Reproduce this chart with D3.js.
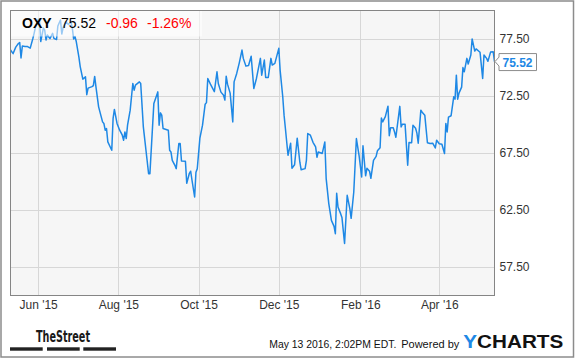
<!DOCTYPE html>
<html>
<head>
<meta charset="utf-8">
<script src="https://cdn.jsdelivr.net/npm/d3@7"></script>
<style>
  html, body { margin: 0; padding: 0; background: #fff; }
  svg { display: block; font-family: Arial, "Liberation Sans", sans-serif; }
</style>
</head>
<body>
<svg id="chart" width="575" height="358"></svg>
<script>
// ---- data ----
const ticker = "OXY";
const lastPrice = "75.52";
const change = "-0.96";
const changePct = "-1.26%";
const dates = [
  "2015-05-11","2015-05-13","2015-05-15","2015-05-17","2015-05-18","2015-05-19","2015-05-20","2015-05-22","2015-05-24","2015-05-26",
  "2015-05-28","2015-05-29","2015-05-30","2015-06-01","2015-06-02","2015-06-03","2015-06-05","2015-06-06","2015-06-07","2015-06-08",
  "2015-06-10","2015-06-12","2015-06-13","2015-06-15","2015-06-16","2015-06-18","2015-06-19","2015-06-20","2015-06-22","2015-06-24",
  "2015-06-26","2015-06-27","2015-06-28","2015-06-29","2015-06-30","2015-07-02","2015-07-03","2015-07-05","2015-07-07","2015-07-08",
  "2015-07-09","2015-07-12","2015-07-13","2015-07-14","2015-07-15","2015-07-17","2015-07-20","2015-07-21","2015-07-22","2015-07-23",
  "2015-07-24","2015-07-26","2015-07-27","2015-07-28","2015-07-29","2015-07-31","2015-08-02","2015-08-04","2015-08-05","2015-08-06",
  "2015-08-07","2015-08-08","2015-08-10","2015-08-12","2015-08-13","2015-08-14","2015-08-17","2015-08-18","2015-08-20","2015-08-22",
  "2015-08-24","2015-08-25","2015-08-28","2015-08-31","2015-09-01","2015-09-02","2015-09-03","2015-09-04","2015-09-08","2015-09-09",
  "2015-09-10","2015-09-11","2015-09-13","2015-09-14","2015-09-16","2015-09-17","2015-09-18","2015-09-21","2015-09-22","2015-09-24",
  "2015-09-25","2015-09-26","2015-09-28","2015-09-29","2015-09-30","2015-10-02","2015-10-04","2015-10-06","2015-10-07","2015-10-08",
  "2015-10-10","2015-10-13","2015-10-15","2015-10-16","2015-10-18","2015-10-20","2015-10-21","2015-10-22","2015-10-23","2015-10-25",
  "2015-10-27","2015-10-28","2015-10-30","2015-11-01","2015-11-03","2015-11-04","2015-11-06","2015-11-08","2015-11-10","2015-11-12",
  "2015-11-14","2015-11-17","2015-11-18","2015-11-20","2015-11-21","2015-11-23","2015-11-25","2015-11-26","2015-11-28","2015-12-01",
  "2015-12-02","2015-12-04","2015-12-05","2015-12-06","2015-12-08","2015-12-10","2015-12-11","2015-12-13","2015-12-15","2015-12-17",
  "2015-12-18","2015-12-21","2015-12-22","2015-12-23","2015-12-25","2015-12-27","2015-12-29","2015-12-30","2015-12-31","2016-01-03",
  "2016-01-05","2016-01-06","2016-01-08","2016-01-10","2016-01-12","2016-01-13","2016-01-14","2016-01-15","2016-01-17","2016-01-18",
  "2016-01-20","2016-01-22","2016-01-24","2016-01-25","2016-01-27","2016-01-29","2016-01-31","2016-02-02","2016-02-03","2016-02-05",
  "2016-02-06","2016-02-08","2016-02-09","2016-02-11","2016-02-13","2016-02-14","2016-02-16","2016-02-17","2016-02-18","2016-02-20",
  "2016-02-22","2016-02-23","2016-02-24","2016-02-26","2016-02-27","2016-02-28","2016-03-02","2016-03-03","2016-03-04","2016-03-06",
  "2016-03-08","2016-03-09","2016-03-11","2016-03-12","2016-03-14","2016-03-15","2016-03-16","2016-03-18","2016-03-19","2016-03-21",
  "2016-03-23","2016-03-25","2016-03-27","2016-03-29","2016-03-30","2016-04-01","2016-04-03","2016-04-05","2016-04-06","2016-04-07",
  "2016-04-08","2016-04-10","2016-04-12","2016-04-13","2016-04-14","2016-04-15","2016-04-16","2016-04-18","2016-04-19","2016-04-20",
  "2016-04-22","2016-04-23","2016-04-25","2016-04-26","2016-04-28","2016-04-29","2016-05-02","2016-05-04","2016-05-05","2016-05-07",
  "2016-05-08","2016-05-10","2016-05-12","2016-05-13"
];
const prices = [
  76.53,76.22,76.79,77.10,77.19,75.83,76.88,76.85,76.84,76.70,
  77.54,78.02,78.55,79.21,79.25,77.28,78.46,78.29,77.41,77.85,
  77.54,78.00,77.56,77.45,78.64,79.17,77.94,78.51,79.02,78.77,
  78.99,78.46,77.50,77.72,77.28,75.91,75.08,73.98,74.18,72.62,
  73.19,73.32,73.41,74.22,73.28,71.55,70.23,70.09,69.50,69.65,
  68.47,67.98,67.74,70.53,71.32,70.09,69.50,69.06,68.62,69.35,
  68.77,69.94,71.26,73.60,73.01,73.45,73.74,73.60,69.79,67.74,
  65.69,65.69,71.85,72.86,69.94,71.02,70.82,69.65,69.50,67.74,
  67.59,66.86,66.42,66.13,68.33,68.33,66.80,66.77,64.84,65.72,
  65.90,65.11,63.64,65.81,66.12,68.80,69.94,71.78,71.92,74.04,
  73.54,72.88,74.62,73.60,72.84,72.57,72.14,74.24,73.54,72.75,
  70.23,73.74,74.48,75.43,76.53,75.80,75.12,75.17,75.98,73.16,
  74.04,75.80,74.33,75.65,74.13,74.13,75.80,75.21,75.36,76.68,
  74.77,72.43,70.82,69.67,67.30,68.36,66.16,66.47,68.80,66.69,
  66.03,66.13,66.86,69.21,69.06,68.44,68.03,67.13,67.59,67.45,
  68.47,65.28,63.06,61.59,61.06,60.42,63.96,62.76,62.18,61.85,
  59.57,63.79,62.62,61.77,64.08,68.77,67.30,65.40,68.14,65.50,
  66.16,65.90,65.28,66.86,67.21,67.70,67.96,70.57,70.23,70.69,
  71.61,69.02,69.72,69.72,69.35,68.88,71.59,69.79,70.03,70.03,
  66.42,68.42,68.40,69.94,69.67,69.24,68.36,71.26,71.08,70.82,
  68.40,68.33,68.36,67.94,68.62,68.31,68.27,67.45,70.09,69.35,
  70.64,70.77,72.43,72.22,74.33,72.22,72.75,73.28,74.99,74.62,
  75.80,75.30,76.09,77.51,76.44,76.63,76.34,74.04,76.09,75.80,
  75.54,76.35,76.38,75.52
];
const yTicks = [57.5, 62.5, 67.5, 72.5, 77.5];
const xTickDates = ["2015-06-01","2015-08-01","2015-10-01","2015-12-01","2016-02-01","2016-04-01"];
const xTickLabels = ["Jun '15","Aug '15","Oct '15","Dec '15","Feb '16","Apr '16"];
const xDomain = ["2015-05-11","2016-05-13"];
const yDomain = [55, 80];
const footerDate = "May 13 2016, 2:02PM EDT.";
const footerPowered = "Powered by";

// ---- drawing ----
const parse = d3.timeParse("%Y-%m-%d");
const data = dates.map((d, i) => ({ date: parse(d), value: prices[i] }));

const svg = d3.select("#chart");
const plot = { left: 10.5, top: 10.5, right: 494.5, bottom: 295.5 };

const x = d3.scaleTime().domain(xDomain.map(parse)).range([plot.left, plot.right]);
const y = d3.scaleLinear().domain(yDomain).range([plot.bottom, plot.top]);

// outer frame
svg.append("rect")
  .attr("x", 1).attr("y", 1).attr("width", 572.5).attr("height", 356)
  .attr("fill", "#fff").attr("stroke", "#8c8c8c").attr("stroke-width", 1.5);

// plot background
svg.append("rect")
  .attr("x", plot.left).attr("y", plot.top)
  .attr("width", plot.right - plot.left).attr("height", plot.bottom - plot.top)
  .attr("fill", "#f6f6f6");

// gridlines
const grid = svg.append("g");
grid.selectAll(".hg").data(yTicks).join("line")
  .attr("x1", plot.left).attr("x2", plot.right)
  .attr("y1", d => Math.round(y(d)) + 0.5).attr("y2", d => Math.round(y(d)) + 0.5)
  .attr("stroke", "#d7d7d7").attr("stroke-width", 1);
grid.selectAll(".vg").data(xTickDates).join("line")
  .attr("x1", d => Math.round(x(parse(d))) + 0.5).attr("x2", d => Math.round(x(parse(d))) + 0.5)
  .attr("y1", plot.top).attr("y2", plot.bottom)
  .attr("stroke", "#d7d7d7").attr("stroke-width", 1);

// price line
const line = d3.line().x(d => x(d.date)).y(d => y(d.value));
svg.append("path").datum(data)
  .attr("d", line)
  .attr("fill", "none")
  .attr("stroke", "#1e88e5")
  .attr("stroke-width", 1.5)
  .attr("stroke-linejoin", "round");

// plot border
svg.append("rect")
  .attr("x", plot.left).attr("y", plot.top)
  .attr("width", plot.right - plot.left).attr("height", plot.bottom - plot.top)
  .attr("fill", "none").attr("stroke", "#858585").attr("stroke-width", 1);

// y axis (right)
const yAxis = d3.axisRight(y).tickValues(yTicks).tickFormat(d3.format(".2f")).tickSize(0).tickPadding(0);
const yg = svg.append("g").attr("transform", `translate(${plot.right + 5},0)`).call(yAxis);
yg.select(".domain").remove();
yg.selectAll("text").attr("font-size", 12).attr("fill", "#333").attr("font-family", "Arial, 'Liberation Sans', sans-serif");

// x axis (bottom)
const xAxis = d3.axisBottom(x).tickValues(xTickDates.map(parse))
  .tickFormat((d, i) => xTickLabels[i]).tickSize(0).tickPadding(0);
const xg = svg.append("g").attr("transform", `translate(0,${plot.bottom + 5})`).call(xAxis);
xg.select(".domain").remove();
xg.selectAll("text").attr("font-size", 12).attr("fill", "#333").attr("dy", "0.71em")
  .attr("font-family", "Arial, 'Liberation Sans', sans-serif");

// header overlay
svg.append("rect")
  .attr("x", 11).attr("y", 11).attr("width", 191).attr("height", 25.5)
  .attr("fill", "#fff").attr("opacity", 0.55);
const header = svg.append("text").attr("x", 22).attr("y", 28.3).attr("font-size", 14);
header.append("tspan").attr("font-weight", "bold").attr("fill", "#000").text(ticker);
header.append("tspan").attr("x", 61).attr("fill", "#000").text(lastPrice);
header.append("tspan").attr("x", 106).attr("fill", "#f00").text(change);
header.append("tspan").attr("x", 147).attr("fill", "#f00").text(changePct);

// last price marker
const lastY = y(prices[prices.length - 1]);
svg.append("path")
  .attr("d", `M${plot.right + 0.5},${lastY} L${plot.right + 4.5},${lastY - 4.5} L${plot.right + 4.5},${lastY - 8} L${plot.right + 42},${lastY - 8} L${plot.right + 42},${lastY + 9} L${plot.right + 4.5},${lastY + 9} L${plot.right + 4.5},${lastY + 4.5} Z`)
  .attr("fill", "#fff").attr("stroke", "#8c8c8c").attr("stroke-width", 1);
svg.append("text")
  .attr("x", plot.right + 8).attr("y", lastY + 5)
  .attr("font-size", 12).attr("font-weight", "bold").attr("fill", "#1e88e5")
  .text(lastPrice);

// footer: TheStreet logo
svg.append("text")
  .attr("x", 36).attr("y", 341.5)
  .attr("font-family", "'DejaVu Sans Condensed', 'DejaVu Sans', sans-serif")
  .attr("font-weight", "bold").attr("font-size", 16).attr("fill", "#1a1a1a")
  .attr("textLength", 54).attr("lengthAdjust", "spacingAndGlyphs")
  .text("TheStreet");
const barXs = [10, 47, 83.3];
svg.selectAll(".bar").data(barXs).join("rect")
  .attr("x", d => d).attr("y", 347.3).attr("width", 32.7).attr("height", 3.4)
  .attr("fill", "#222");

// footer text
svg.append("text")
  .attr("x", 269.3).attr("y", 347.7)
  .attr("font-size", 11).attr("fill", "#111")
  .attr("textLength", 127).attr("lengthAdjust", "spacingAndGlyphs")
  .text(footerDate);
svg.append("text")
  .attr("x", 459.3).attr("y", 347.7).attr("text-anchor", "end")
  .attr("font-size", 11).attr("fill", "#111")
  .text(footerPowered);

// YCHARTS logo
const yc = svg.append("text")
  .attr("x", 463.3).attr("y", 348.3)
  .attr("font-size", 18.5).attr("font-weight", "bold")
  .attr("textLength", 100).attr("lengthAdjust", "spacingAndGlyphs");
yc.append("tspan").attr("fill", "#1e88e5").text("Y");
yc.append("tspan").attr("fill", "#111").text("CHARTS");
</script>
</body>
</html>
